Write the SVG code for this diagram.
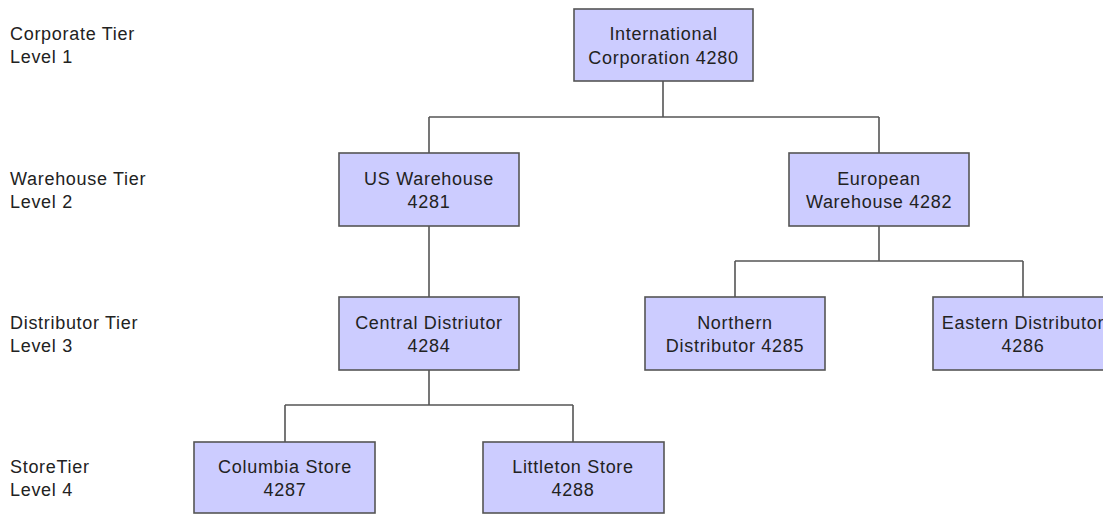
<svg xmlns="http://www.w3.org/2000/svg" width="1103" height="514" viewBox="0 0 1103 514">
<style>
text{font-family:"Liberation Sans",Arial,sans-serif;font-size:18px;letter-spacing:0.7px;fill:#222}
.n rect{fill:#ccccff;stroke:#555;stroke-width:1.6}
.n text{text-anchor:middle}
#connectors path{fill:none;stroke:#555;stroke-width:1.6}
</style>
<rect width="1103" height="514" fill="#fff"/>
<g id="tiers">
<text x="10" y="40">Corporate Tier</text><text x="10" y="63">Level 1</text>
<text x="10" y="185">Warehouse Tier</text><text x="10" y="208">Level 2</text>
<text x="10" y="329">Distributor Tier</text><text x="10" y="352">Level 3</text>
<text x="10" y="473">StoreTier</text><text x="10" y="496">Level 4</text>
</g>
<g id="connectors">
<path d="M663 81V117M429 117H879M429 117V153M879 117V153"/>
<path d="M429 226V297"/>
<path d="M879 226V261M735 261H1023M735 261V297M1023 261V297"/>
<path d="M429 370V405M285 405H573M285 405V442M573 405V442"/>
</g>
<g id="n4280" class="n"><rect x="574" y="9" width="179" height="72"/><text x="663.5" y="40">International</text><text x="663.5" y="64">Corporation 4280</text></g>
<g id="n4281" class="n"><rect x="339" y="153" width="180" height="73"/><text x="429" y="185">US Warehouse</text><text x="429" y="208">4281</text></g>
<g id="n4282" class="n"><rect x="789" y="153" width="180" height="73"/><text x="879" y="185">European</text><text x="879" y="208">Warehouse 4282</text></g>
<g id="n4284" class="n"><rect x="339" y="297" width="180" height="73"/><text x="429" y="329">Central Distriutor</text><text x="429" y="352">4284</text></g>
<g id="n4285" class="n"><rect x="645" y="297" width="180" height="73"/><text x="735" y="329">Northern</text><text x="735" y="352">Distributor 4285</text></g>
<g id="n4286" class="n"><rect x="933" y="297" width="180" height="73"/><text x="1023" y="329">Eastern Distributor</text><text x="1023" y="352">4286</text></g>
<g id="n4287" class="n"><rect x="194" y="442" width="181" height="71"/><text x="285" y="473">Columbia Store</text><text x="285" y="496">4287</text></g>
<g id="n4288" class="n"><rect x="483" y="442" width="181" height="71"/><text x="573" y="473">Littleton Store</text><text x="573" y="496">4288</text></g>
</svg>
